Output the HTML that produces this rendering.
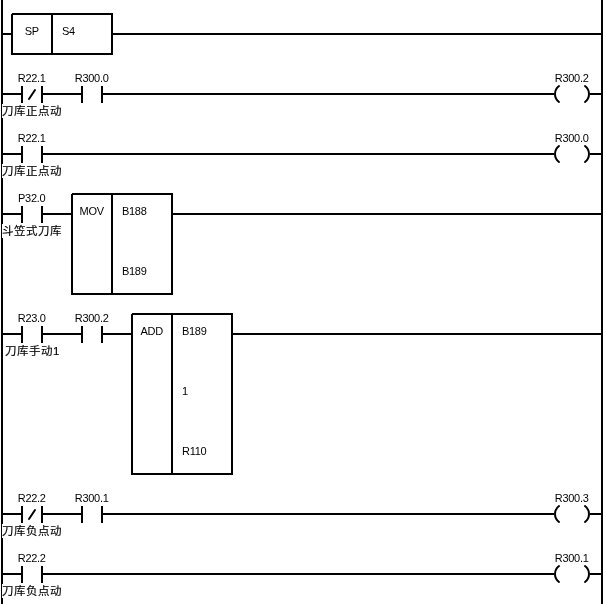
<!DOCTYPE html>
<html lang="zh-CN"><head><meta charset="utf-8"><title>Ladder</title>
<style>
html,body{margin:0;padding:0;background:#fff}
#txt{position:absolute;left:0;top:0;width:604px;height:604px;will-change:transform}
#p{position:relative;width:604px;height:604px;overflow:hidden;background:#fff}
svg{position:absolute;left:0;top:0}
.t{position:absolute;font:11px/12px "Liberation Sans",Arial,sans-serif;color:#000;white-space:nowrap;letter-spacing:-0.3px}
.t.c{text-align:center}
.cn{position:absolute;width:80px;text-align:center;font:11.5px/14px "Liberation Sans","Noto Sans CJK SC",sans-serif;color:#000;white-space:nowrap;height:14px;letter-spacing:0.5px;-webkit-text-stroke:0.15px #000}
.cn span{background:#fff;display:inline-block;height:14px;line-height:15px;overflow:hidden;vertical-align:top;width:60px}
.cn span.n{width:54px}
</style></head><body>
<div id="p">
<svg width="604" height="604" viewBox="0 0 604 604" shape-rendering="crispEdges" fill="#000">
<rect x="1" y="0" width="2" height="604"/>
<rect x="601" y="0" width="2" height="604"/>
<rect x="3" y="33" width="8" height="2"/>
<rect x="12" y="14" width="100" height="40" fill="none" stroke="#000" stroke-width="2"/>
<rect x="51" y="13" width="2" height="42"/>
<rect x="11" y="13" width="1" height="1" fill="#fff"/>
<rect x="113" y="33" width="488" height="2"/>
<rect x="3" y="93" width="18" height="2"/>
<rect x="21" y="86" width="2" height="17"/>
<rect x="41" y="86" width="2" height="17"/>
<line x1="35" y1="90" x2="29" y2="99" stroke="#000" stroke-width="2" stroke-linecap="round" shape-rendering="auto"/>
<rect x="43" y="93" width="38" height="2"/>
<rect x="81" y="86" width="2" height="17"/>
<rect x="101" y="86" width="2" height="17"/>
<rect x="103" y="93" width="451" height="2"/>
<path d="M559 86 A10 10 0 0 0 559 102" fill="none" stroke="#000" stroke-width="2" stroke-linecap="round" shape-rendering="auto"/>
<path d="M585 86 A10 10 0 0 1 585 102" fill="none" stroke="#000" stroke-width="2" stroke-linecap="round" shape-rendering="auto"/>
<rect x="590" y="93" width="11" height="2"/>
<rect x="3" y="153" width="18" height="2"/>
<rect x="21" y="146" width="2" height="17"/>
<rect x="41" y="146" width="2" height="17"/>
<rect x="43" y="153" width="511" height="2"/>
<path d="M559 146 A10 10 0 0 0 559 162" fill="none" stroke="#000" stroke-width="2" stroke-linecap="round" shape-rendering="auto"/>
<path d="M585 146 A10 10 0 0 1 585 162" fill="none" stroke="#000" stroke-width="2" stroke-linecap="round" shape-rendering="auto"/>
<rect x="590" y="153" width="11" height="2"/>
<rect x="3" y="213" width="18" height="2"/>
<rect x="21" y="206" width="2" height="17"/>
<rect x="41" y="206" width="2" height="17"/>
<rect x="43" y="213" width="28" height="2"/>
<rect x="72" y="194" width="100" height="100" fill="none" stroke="#000" stroke-width="2"/>
<rect x="111" y="193" width="2" height="102"/>
<rect x="71" y="193" width="1" height="1" fill="#fff"/>
<rect x="173" y="213" width="428" height="2"/>
<rect x="3" y="333" width="18" height="2"/>
<rect x="21" y="326" width="2" height="17"/>
<rect x="41" y="326" width="2" height="17"/>
<rect x="43" y="333" width="38" height="2"/>
<rect x="81" y="326" width="2" height="17"/>
<rect x="101" y="326" width="2" height="17"/>
<rect x="103" y="333" width="28" height="2"/>
<rect x="132" y="314" width="100" height="160" fill="none" stroke="#000" stroke-width="2"/>
<rect x="171" y="313" width="2" height="162"/>
<rect x="131" y="313" width="1" height="1" fill="#fff"/>
<rect x="233" y="333" width="368" height="2"/>
<rect x="3" y="513" width="18" height="2"/>
<rect x="21" y="506" width="2" height="17"/>
<rect x="41" y="506" width="2" height="17"/>
<line x1="35" y1="510" x2="29" y2="519" stroke="#000" stroke-width="2" stroke-linecap="round" shape-rendering="auto"/>
<rect x="43" y="513" width="38" height="2"/>
<rect x="81" y="506" width="2" height="17"/>
<rect x="101" y="506" width="2" height="17"/>
<rect x="103" y="513" width="451" height="2"/>
<path d="M559 506 A10 10 0 0 0 559 522" fill="none" stroke="#000" stroke-width="2" stroke-linecap="round" shape-rendering="auto"/>
<path d="M585 506 A10 10 0 0 1 585 522" fill="none" stroke="#000" stroke-width="2" stroke-linecap="round" shape-rendering="auto"/>
<rect x="590" y="513" width="11" height="2"/>
<rect x="3" y="573" width="18" height="2"/>
<rect x="21" y="566" width="2" height="17"/>
<rect x="41" y="566" width="2" height="17"/>
<rect x="43" y="573" width="511" height="2"/>
<path d="M559 566 A10 10 0 0 0 559 582" fill="none" stroke="#000" stroke-width="2" stroke-linecap="round" shape-rendering="auto"/>
<path d="M585 566 A10 10 0 0 1 585 582" fill="none" stroke="#000" stroke-width="2" stroke-linecap="round" shape-rendering="auto"/>
<rect x="590" y="573" width="11" height="2"/>
</svg>
<div id="txt">
<div class="t c" style="left:-8.3px;top:25px;width:80px">SP</div>
<div class="t" style="left:62px;top:25px">S4</div>
<div class="t c" style="left:-8.3px;top:72px;width:80px">R22.1</div>
<div class="cn" style="left:-8px;top:104px"><span>刀库正点动</span></div>
<div class="t c" style="left:51.7px;top:72px;width:80px">R300.0</div>
<div class="t c" style="left:531.7px;top:72px;width:80px">R300.2</div>
<div class="t c" style="left:-8.3px;top:132px;width:80px">R22.1</div>
<div class="cn" style="left:-8px;top:164px"><span>刀库正点动</span></div>
<div class="t c" style="left:531.7px;top:132px;width:80px">R300.0</div>
<div class="t c" style="left:-8.3px;top:192px;width:80px">P32.0</div>
<div class="cn" style="left:-8px;top:224px"><span>斗笠式刀库</span></div>
<div class="t c" style="left:51.7px;top:205px;width:80px">MOV</div>
<div class="t" style="left:122px;top:205px">B188</div>
<div class="t" style="left:122px;top:265px">B189</div>
<div class="t c" style="left:-8.3px;top:312px;width:80px">R23.0</div>
<div class="cn" style="left:-8px;top:344px"><span class="n">刀库手动1</span></div>
<div class="t c" style="left:51.7px;top:312px;width:80px">R300.2</div>
<div class="t c" style="left:111.7px;top:325px;width:80px">ADD</div>
<div class="t" style="left:182px;top:325px">B189</div>
<div class="t" style="left:182px;top:385px">1</div>
<div class="t" style="left:182px;top:445px">R110</div>
<div class="t c" style="left:-8.3px;top:492px;width:80px">R22.2</div>
<div class="cn" style="left:-8px;top:524px"><span>刀库负点动</span></div>
<div class="t c" style="left:51.7px;top:492px;width:80px">R300.1</div>
<div class="t c" style="left:531.7px;top:492px;width:80px">R300.3</div>
<div class="t c" style="left:-8.3px;top:552px;width:80px">R22.2</div>
<div class="cn" style="left:-8px;top:584px"><span>刀库负点动</span></div>
<div class="t c" style="left:531.7px;top:552px;width:80px">R300.1</div>
</div>
</div>
</body></html>
